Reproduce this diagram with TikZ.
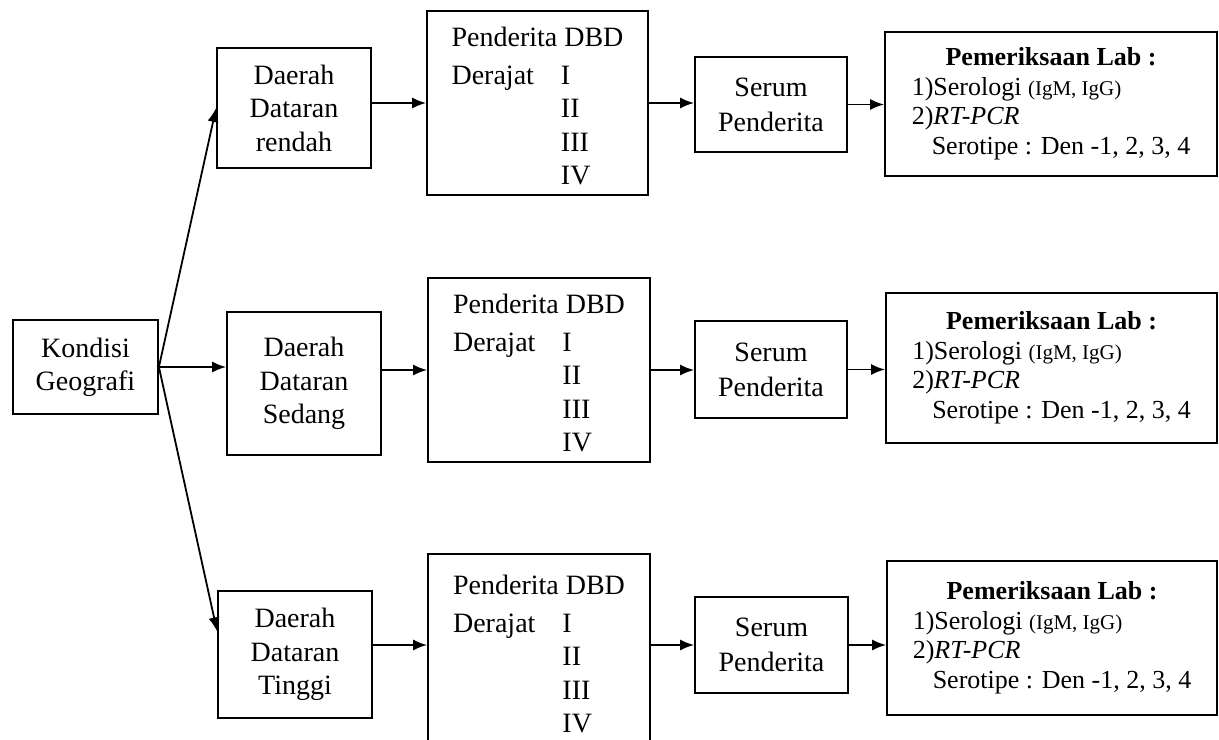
\documentclass[tikz,border=0pt]{standalone}
\usepackage{fontspec}
\setmainfont{Liberation Serif}
\usetikzlibrary{arrows.meta,calc}
\newcommand{\pdbd}{\begin{tabular}{@{}l@{\hspace{13.5pt}}l@{}}\multicolumn{2}{@{}l@{}}{\rule{0pt}{17.7pt}Penderita DBD}\\[2pt]Derajat & I\\ & II\\ & III\\ & IV\end{tabular}}
\newcommand{\labtxt}{\begin{tabular}{@{}l@{}}\multicolumn{1}{@{}c@{}}{\textbf{Pemeriksaan Lab :}}\\1)Serologi {\fontsize{10.5}{11}\selectfont(IgM, IgG)}\\2)\textit{RT-PCR}\\\hspace{10pt}Serotipe : Den -1, 2, 3, 4\end{tabular}}
\begin{document}
\begin{tikzpicture}[x=0.5pt,y=-0.5pt,
  box/.style={draw,line width=0.9pt,inner sep=0pt,align=center},
  mainf/.style={font=\fontsize{14}{16.75}\selectfont},
  serumf/.style={font=\fontsize{14}{17.5}\selectfont},
  labf/.style={font=\fontsize{13}{14.85}\selectfont},
  arr/.style={-{Latex[length=7pt,width=5.5pt]},line width=0.9pt}]
\useasboundingbox (0,0) rectangle (1219,739);
% first column
\node[box,font=\fontsize{14}{16.5}\selectfont,minimum width=72.5pt,minimum height=47pt] (k) at (85.5,367) {Kondisi\\Geografi};
% second column
\node[box,mainf,minimum width=77pt,minimum height=60pt] (d1) at (294,108) {Daerah\\Dataran\\rendah};
\node[box,mainf,minimum width=77pt,minimum height=71.5pt] (s) at (304,383.5) {Daerah\\Dataran\\Sedang};
\node[box,mainf,minimum width=77pt,minimum height=63.5pt] (t) at (295,654.5) {Daerah\\Dataran\\Tinggi};
% third column
\node[box,mainf,minimum width=110.5pt,minimum height=92pt] (p1) at (537.5,103) {\pdbd};
\node[box,mainf,minimum width=111pt,minimum height=92pt] (p2) at (539,370) {\pdbd};
\node[box,mainf,minimum width=111pt,minimum height=97pt] (p3) at (539,651) {\pdbd};
% fourth column
\node[box,serumf,minimum width=76pt,minimum height=47.5pt] (sr1) at (771,104.5) {Serum\\Penderita};
\node[box,serumf,minimum width=76pt,minimum height=48.5pt] (sr2) at (771,369.5) {Serum\\Penderita};
\node[box,serumf,minimum width=76.5pt,minimum height=48pt] (sr3) at (771.5,645) {Serum\\Penderita};
% fifth column
\node[box,labf,minimum width=166pt,minimum height=72pt] (l1) at (1051,104) {\labtxt};
\node[box,labf,minimum width=165.5pt,minimum height=75pt] (l2) at (1051.5,368) {\labtxt};
\node[box,labf,minimum width=165pt,minimum height=77pt] (l3) at (1052,638) {\labtxt};
% connectors
\coordinate (tin) at ($(t.north west)!0.32!(t.south west)$);
\draw[arr] (k.east) -- (d1.west);
\draw[arr] (k.east) -- (k.east -| s.west);
\draw[arr] (k.east) -- (tin);
\draw[arr] (d1.east |- p1.west) -- (p1.west);
\draw[arr] (p1.east) -- (p1.east -| sr1.west);
\draw[arr] (sr1.east) -- (sr1.east -| l1.west);
\draw[arr] (s.east |- p2.west) -- (p2.west);
\draw[arr] (p2.east) -- (p2.east -| sr2.west);
\draw[arr] (sr2.east) -- (sr2.east -| l2.west);
\draw[arr] (t.east |- sr3.west) -- (p3.west |- sr3.west);
\draw[arr] (p3.east |- sr3.west) -- (sr3.west);
\draw[arr] (sr3.east) -- (sr3.east -| l3.west);
\end{tikzpicture}
\end{document}
